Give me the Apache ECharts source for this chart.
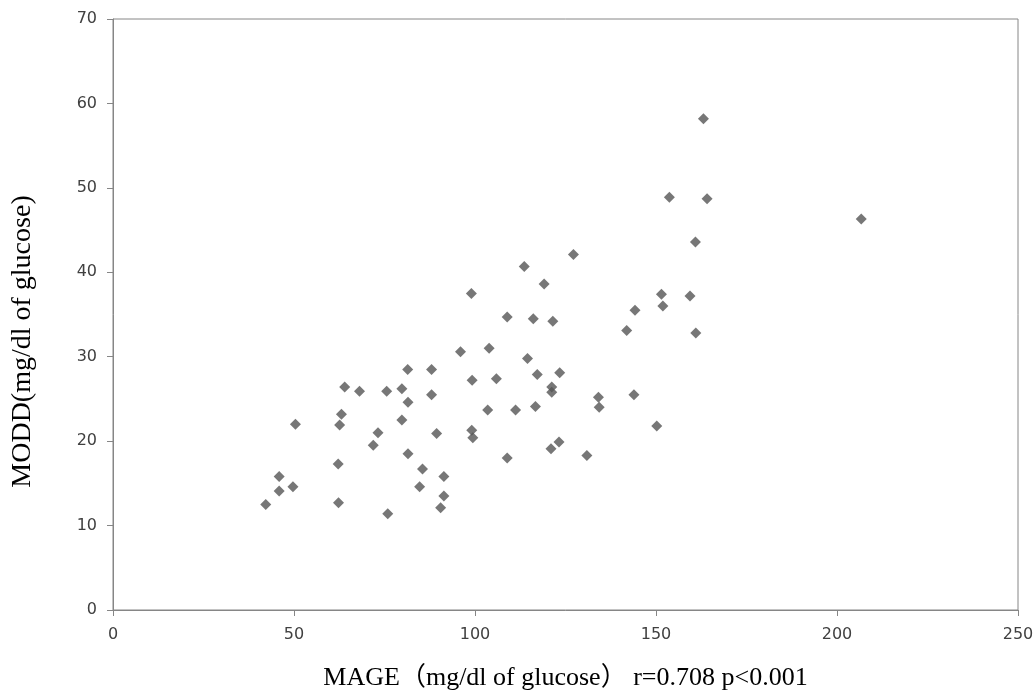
<!DOCTYPE html>
<html>
<head>
<meta charset="utf-8">
<script src="https://cdn.jsdelivr.net/npm/echarts@6/dist/echarts.min.js"></script>
<style>
  html, body { margin: 0; padding: 0; background: #fff; }
  #chart { width: 1035px; height: 691px; }
</style>
</head>
<body>
<div id="chart"></div>
<script>
// MAGE (x) vs MODD (y)
var mage = [
    42.2, 45.9, 45.9, 49.7, 50.4, 62.2, 62.3, 62.6, 63.1, 64.0,
    68.1, 71.9, 73.2, 75.6, 75.9, 79.8, 79.8, 81.5, 81.4, 81.5,
    85.5, 84.7, 88.0, 88.0, 89.4, 90.5, 91.4, 91.4, 96.0, 99.0,
    99.2, 99.1, 99.4, 103.9, 103.5, 105.9, 108.9, 108.9, 111.2, 113.6,
    114.5, 116.1, 116.7, 117.2, 119.1, 121.0, 121.2, 121.2, 121.5, 123.2,
    123.4, 127.2, 130.9, 134.1, 134.3, 141.9, 144.2, 143.9, 150.2, 151.5,
    151.9, 153.7, 159.4, 160.9, 161.0, 163.1, 164.1, 206.7
];
var modd = [
    12.5, 14.1, 15.8, 14.6, 22.0, 17.3, 12.7, 21.9, 23.2, 26.4,
    25.9, 19.5, 21.0, 25.9, 11.4, 26.2, 22.5, 24.6, 28.5, 18.5,
    16.7, 14.6, 28.5, 25.5, 20.9, 12.1, 13.5, 15.8, 30.6, 37.5,
    27.2, 21.3, 20.4, 31.0, 23.7, 27.4, 34.7, 18.0, 23.7, 40.7,
    29.8, 34.5, 24.1, 27.9, 38.6, 19.1, 26.4, 25.8, 34.2, 19.9,
    28.1, 42.1, 18.3, 25.2, 24.0, 33.1, 35.5, 25.5, 21.8, 37.4,
    36.0, 48.9, 37.2, 43.6, 32.8, 58.2, 48.7, 46.3
];

var xTitle = 'MAGE（mg/dl of glucose） r=0.708 p<0.001';
var yTitle = 'MODD(mg/dl of glucose)';

var points = mage.map(function(x, i) {
    return [x, modd[i]];
});

var axisLine = { show: true, lineStyle: { color: '#868686', width: 1 } };
var tick = { show: true, inside: false, length: 6, lineStyle: { color: '#868686' } };
var labelStyle = { color: '#404040', fontSize: 16, fontFamily: 'DejaVu Sans' };
var serif = "'Liberation Serif', 'Noto Sans CJK JP', serif";

var chart = echarts.init(document.getElementById('chart'));
chart.setOption({
    animation: false,
    backgroundColor: '#fff',
    grid: {
        left: 113, right: 17, top: 19, bottom: 81,
        outerBoundsMode: 'none',
        show: true, borderColor: '#868686', borderWidth: 1
    },
    xAxis: {
        type: 'value',
        min: 0, max: 250, interval: 50,
        name: xTitle,
        nameLocation: 'middle',
        nameGap: 55,
        nameTextStyle: { color: '#000', fontSize: 26, fontFamily: serif },
        axisLine: axisLine,
        axisTick: tick,
        axisLabel: Object.assign({ margin: 17 }, labelStyle),
        splitLine: { show: false }
    },
    yAxis: {
        type: 'value',
        min: 0, max: 70, interval: 10,
        name: yTitle,
        nameLocation: 'middle',
        nameGap: 76,
        nameTextStyle: { color: '#000', fontSize: 28, fontFamily: serif, padding: [0, 54, 0, 0] },
        axisLine: axisLine,
        axisTick: tick,
        axisLabel: Object.assign({ margin: 16 }, labelStyle),
        splitLine: { show: false }
    },
    series: [{
        type: 'scatter',
        data: points,
        symbol: 'diamond',
        symbolSize: 11,
        itemStyle: { color: '#555555' }
    }]
});
</script>
</body>
</html>
